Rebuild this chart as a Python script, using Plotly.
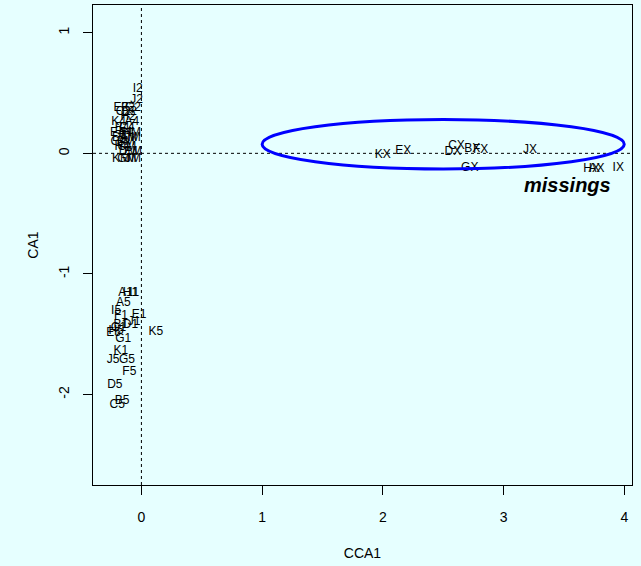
import plotly.graph_objects as go

# ---- data ----
site_labels = ["KX", "EX", "CX", "DX", "BX", "FX", "JX", "GX", "HX", "AX", "IX"]
site_x = [2.00, 2.17, 2.61, 2.58, 2.74, 2.81, 3.22, 2.72, 3.73, 3.77, 3.95]
site_y = [-0.01, 0.02, 0.06, 0.01, 0.04, 0.03, 0.03, -0.12, -0.13, -0.13, -0.12]

top_labels = ["I2", "J2", "E2", "F2", "G2", "C2", "D2", "H2", "K4", "A4",
              "B4", "C4", "E4", "F4", "HM", "D4", "AM", "IM", "G4", "BM",
              "H4", "CM", "DM", "EM", "KM", "GM", "JM"]
top_x = [-0.03, -0.04, -0.17, -0.11, -0.07, -0.15, -0.10, -0.11, -0.19, -0.08,
         -0.16, -0.12, -0.20, -0.13, -0.08, -0.18, -0.11, -0.06, -0.19, -0.13,
         -0.16, -0.12, -0.11, -0.07, -0.17, -0.12, -0.07]
top_y = [0.53, 0.44, 0.38, 0.38, 0.38, 0.34, 0.34, 0.30, 0.26, 0.26,
         0.21, 0.21, 0.17, 0.17, 0.17, 0.13, 0.13, 0.13, 0.09, 0.09,
         0.05, 0.05, 0.01, 0.01, -0.05, -0.05, -0.05]

low_labels = ["A1", "H1", "I1", "A5", "I5", "F1", "E1", "J1", "D1", "B1",
              "C1", "H5", "E5", "G1", "K5", "K1", "J5", "G5", "F5", "D5",
              "B5", "C5"]
low_x = [-0.13, -0.09, -0.06, -0.15, -0.21, -0.17, -0.02, -0.06, -0.09, -0.17,
         -0.19, -0.21, -0.23, -0.15, 0.12, -0.17, -0.235, -0.12, -0.10, -0.22,
         -0.16, -0.20]
low_y = [-1.16, -1.16, -1.16, -1.24, -1.31, -1.35, -1.34, -1.40, -1.42, -1.42,
         -1.45, -1.47, -1.49, -1.54, -1.48, -1.64, -1.71, -1.71, -1.81, -1.92,
         -2.05, -2.09]

x_ticks = [0, 1, 2, 3, 4]
y_ticks = [-2, -1, 0, 1]
x_range = [-0.401, 4.064]
y_range = [-2.75, 1.23]

# ellipse around the "missings" group (data units)
ell_cx, ell_cy, ell_rx, ell_ry = 2.50, 0.075, 1.50, 0.205
note_text = "missings"
note_x, note_y = 3.53, -0.26

BG = "#E6FFFF"
FONT = "Liberation Sans, Arial, sans-serif"

fig = go.Figure()
for labs, xs, ys in [(site_labels, site_x, site_y),
                     (top_labels, top_x, top_y),
                     (low_labels, low_x, low_y)]:
    fig.add_trace(go.Scatter(x=xs, y=ys, text=labs, mode="text",
                             textposition="middle center",
                             textfont=dict(family=FONT, size=12, color="black"),
                             hoverinfo="text", showlegend=False,
                             cliponaxis=False))

# dotted reference lines at 0
fig.add_shape(type="line", xref="x", yref="paper", x0=0, x1=0, y0=0, y1=1,
              line=dict(color="black", width=1, dash="dot"), layer="below")
fig.add_shape(type="line", xref="paper", yref="y", x0=0, x1=1, y0=0, y1=0,
              line=dict(color="black", width=1, dash="dot"), layer="below")
# ellipse
fig.add_shape(type="circle", xref="x", yref="y",
              x0=ell_cx - ell_rx, x1=ell_cx + ell_rx,
              y0=ell_cy - ell_ry, y1=ell_cy + ell_ry,
              line=dict(color="#0000FF", width=3))

fig.add_annotation(x=note_x, y=note_y, xref="x", yref="y", text="<b><i>" + note_text + "</i></b>",
                   showarrow=False, font=dict(family=FONT, size=20, color="black"))

axis_common = dict(showgrid=False, zeroline=False, showline=True, mirror=True,
                   linecolor="black", linewidth=1, ticks="outside", ticklen=9,
                   tickcolor="black", tickwidth=1,
                   tickfont=dict(family=FONT, size=14, color="black"))

fig.update_xaxes(range=x_range, tickvals=x_ticks, ticktext=[str(v) for v in x_ticks],
                 ticklabelstandoff=10,
                 title=dict(text="CCA1", font=dict(family=FONT, size=14, color="black"), standoff=24),
                 **axis_common)
fig.update_yaxes(range=y_range, tickvals=y_ticks, ticktext=[str(v) for v in y_ticks],
                 tickangle=-90, ticklabelstandoff=8,
                 title=dict(text="CA1", font=dict(family=FONT, size=14, color="black"), standoff=14),
                 **axis_common)

fig.update_layout(width=641, height=566, autosize=False,
                  margin=dict(l=93, r=9, t=5, b=81),
                  paper_bgcolor=BG, plot_bgcolor=BG,
                  showlegend=False)

fig.write_html("out.html", config={"displayModeBar": False},
               post_script="document.body.style.margin='0';document.body.style.background='" + BG + "';")
